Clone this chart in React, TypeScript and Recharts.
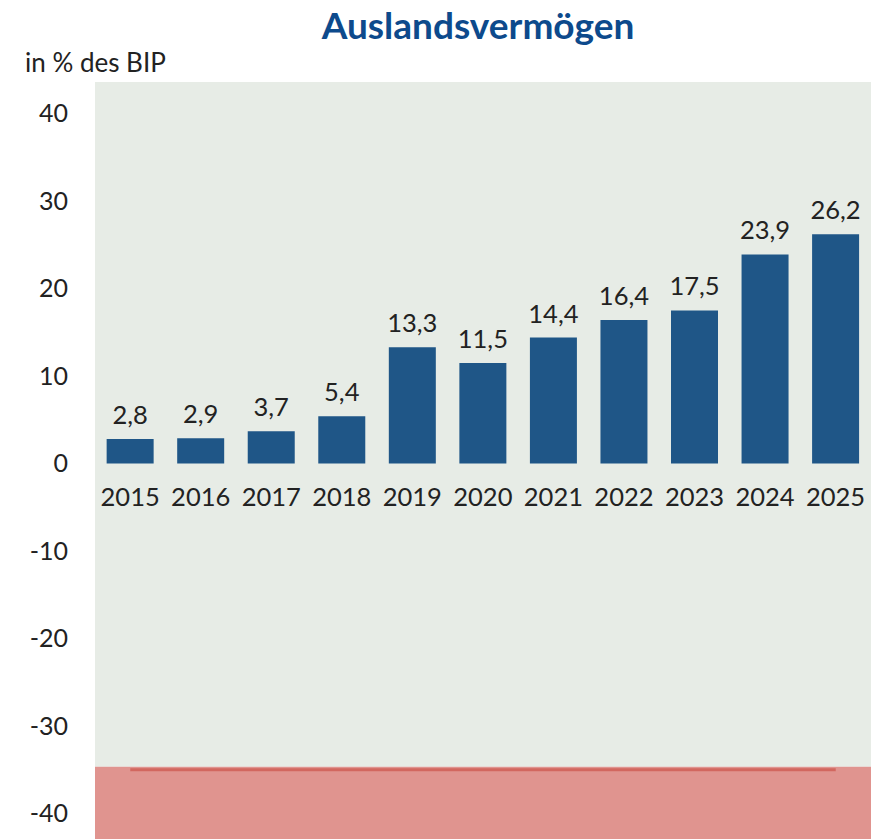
import { BarChart, Bar, XAxis, YAxis, ReferenceArea, ReferenceLine, LabelList } from "recharts";

const YEARS = ["2015", "2016", "2017", "2018", "2019", "2020", "2021", "2022", "2023", "2024", "2025"];
const VALUES = [2.8, 2.9, 3.7, 5.4, 13.3, 11.5, 14.4, 16.4, 17.5, 23.9, 26.2];
const Y_TICKS = [-40, -30, -20, -10, 0, 10, 20, 30, 40];
const Y_MIN = -42.9;
const Y_MAX = 43.6;
const LIMIT = -35;
const BAND_TOP = -34.65;

const FONT = "Lato, 'Noto Sans', sans-serif";

export default function App() {
  const data = YEARS.map((year, i) => ({ year, value: VALUES[i] }));

  return (
    <div style={{ position: "absolute", left: 0, top: 0, width: 871, height: 839, fontFamily: FONT, background: "#fff" }}>
      <div
        style={{
          position: "absolute",
          left: 0,
          width: 956,
          top: 3,
          textAlign: "center",
          fontSize: 37,
          fontWeight: 700,
          color: "#0d4a8c",
          lineHeight: "44px",
        }}
      >
        Auslandsvermögen
      </div>
      <div style={{ position: "absolute", left: 25, top: 46, fontSize: 26, color: "#222", lineHeight: "32px" }}>
        in % des BIP
      </div>
      <BarChart
        width={871}
        height={839}
        data={data}
        margin={{ top: 82, right: 0, bottom: 0, left: 0 }}
        barCategoryGap="16.5%"
        style={{ position: "absolute", left: 0, top: 0 }}
      >
        <XAxis dataKey="year" hide />
        <YAxis
          width={95}
          domain={[Y_MIN, Y_MAX]}
          ticks={Y_TICKS}
          allowDataOverflow
          axisLine={false}
          tickLine={false}
          tickSize={0}
          tickMargin={27}
          tick={{ fill: "#222", fontSize: 25, fontFamily: FONT }}
        />
        <ReferenceArea y1={BAND_TOP} y2={Y_MAX} fill="#e7ece6" fillOpacity={1} stroke="none" />
        <ReferenceArea y1={Y_MIN} y2={BAND_TOP} fill="#e0948f" fillOpacity={1} stroke="none" />
        <ReferenceLine
          segment={[{ x: "2015", y: LIMIT }, { x: "2025", y: LIMIT }]}
          stroke="#d2675f"
          strokeWidth={3}
        />
        <Bar dataKey="value" fill="#1f5687" isAnimationActive={false}>
          <LabelList
            dataKey="value"
            position="top"
            offset={15}
            formatter={(v: any) => String(v).replace(".", ",")}
            style={{ fill: "#222", fontSize: 25.5, fontFamily: FONT }}
          />
          <LabelList
            dataKey="year"
            position="bottom"
            offset={24}
            style={{ fill: "#222", fontSize: 25.5, fontFamily: FONT }}
          />
        </Bar>
      </BarChart>
    </div>
  );
}
